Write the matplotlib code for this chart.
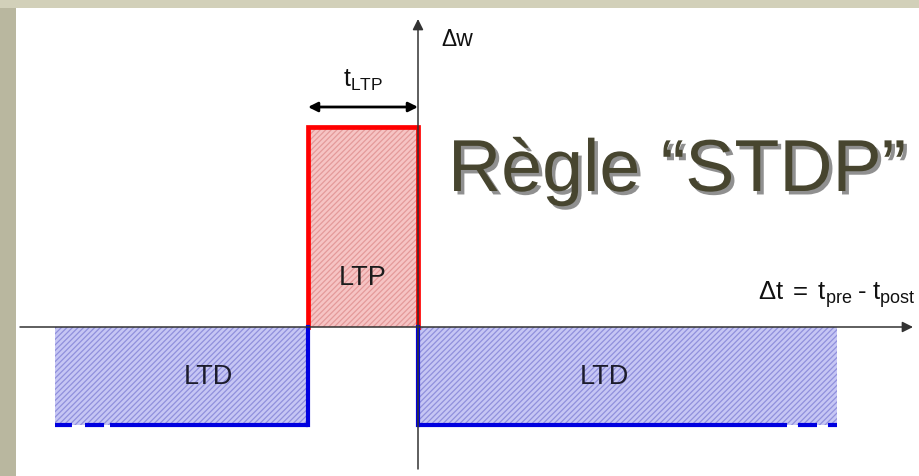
import matplotlib
matplotlib.use("Agg")
import matplotlib.pyplot as plt
import matplotlib.patheffects as pe
from matplotlib.patches import Rectangle

plt.rcParams['font.family'] = ['Liberation Sans', 'DejaVu Sans']
plt.rcParams['mathtext.fontset'] = 'custom'
plt.rcParams['mathtext.rm'] = 'Liberation Sans'
plt.rcParams['mathtext.it'] = 'Liberation Sans'
plt.rcParams['hatch.linewidth'] = 0.9
plt.rcParams['lines.scale_dashes'] = False

# ---- data (schematic STDP rule) ----
t_ltp = 1.0            # width of potentiation window
ltp_amp = 2.0          # potentiation amplitude
ltd_amp = -0.98        # depression amplitude
ltd_left_start = -3.3  # left extent of depression
ltd_right_end = 3.81   # right extent of depression
region_labels = ["LTP", "LTD", "LTD"]
title = "Règle “STDP”"
xlabel = r"$\Delta\mathrm{t}\;=\;\mathrm{t}_{\mathrm{pre}}\;\text{-}\;\mathrm{t}_{\mathrm{post}}$"
ylabel = "Δw"
width_label = r"$\mathrm{t}_{\mathrm{LTP}}$"

W, H = 919, 477
fig = plt.figure(figsize=(W / 100, H / 100), dpi=100)
fig.patch.set_facecolor('white')

# beige slide frame
fig.add_artist(Rectangle((0, 0), 16 / W, 1, transform=fig.transFigure,
                         facecolor='#b9b79f', edgecolor='none', zorder=0))
fig.add_artist(Rectangle((0, 1 - 9 / H), 1, 9 / H, transform=fig.transFigure,
                         facecolor='#d2d0b9', edgecolor='none', zorder=0))

ax = fig.add_axes([0, 0, 1, 1])
ax.set_xlim(-418 / 110, (W - 418) / 110)
ax.set_ylim(-(H - 328) / 100, 328 / 100)
ax.axis('off')
ax.patch.set_alpha(0)

# fills
red_fill, red_hatch = '#f6c4c4', '#e49a9a'
blue_fill, blue_hatch = '#c6c6f4', '#9090dc'
ax.fill_between([-t_ltp, 0], 0, ltp_amp, facecolor=red_fill, edgecolor=red_hatch,
                hatch='//////', linewidth=0, zorder=1)
ax.fill_between([ltd_left_start, -t_ltp], ltd_amp, 0, facecolor=blue_fill,
                edgecolor=blue_hatch, hatch='//////', linewidth=0, zorder=1)
ax.fill_between([0, ltd_right_end], ltd_amp, 0, facecolor=blue_fill,
                edgecolor=blue_hatch, hatch='//////', linewidth=0, zorder=1)

# borders
ax.plot([-t_ltp, -t_ltp, 0, 0], [0, ltp_amp, ltp_amp, 0], color='#ff0000',
        lw=3.4, solid_joinstyle='miter', zorder=3)
ax.plot([-t_ltp, -t_ltp], [ltd_amp, 0], color='#0000e0', lw=3, zorder=3)
ax.plot([ltd_left_start, -t_ltp], [ltd_amp, ltd_amp], color='#0000e0', lw=3,
        linestyle=(0, (12.2, 9.4, 13.7, 4.3, 400)), dash_capstyle='butt', zorder=3)
ax.plot([ltd_right_end, 0], [ltd_amp, ltd_amp], color='#0000e0', lw=3,
        linestyle=(0, (6.5, 7.9, 13.7, 7.9, 600)), dash_capstyle='butt', zorder=3)
ax.plot([0, 0], [ltd_amp, 0], color='#0000e0', lw=3, zorder=3)

# axes arrows
ax.annotate('', xy=((913 - 418) / 110, 0), xytext=((20 - 418) / 110, 0),
            arrowprops=dict(arrowstyle='-|>', color='#333333', lw=1.1,
                            mutation_scale=16, shrinkA=0, shrinkB=0), zorder=4)
ax.annotate('', xy=(0, (328 - 20) / 100), xytext=(0, -(470 - 328) / 100),
            arrowprops=dict(arrowstyle='-|>', color='#333333', lw=1.1,
                            mutation_scale=16, shrinkA=0, shrinkB=0), zorder=4)
# t_LTP double arrow
ax.annotate('', xy=(0, 2.2), xytext=(-t_ltp, 2.2),
            arrowprops=dict(arrowstyle='<|-|>', color='black', lw=2,
                            mutation_scale=14, shrinkA=0, shrinkB=0), zorder=4)

# labels
ax.text(-t_ltp / 2, 0.5, region_labels[0], ha='center', va='center',
        fontsize=19.5, color='#1c1c1c', zorder=5)
ax.text((208 - 418) / 110, ltd_amp / 2, region_labels[1], ha='center',
        va='center', fontsize=19.5, color='#1c1c2c', zorder=5)
ax.text((604 - 418) / 110, ltd_amp / 2, region_labels[2], ha='center',
        va='center', fontsize=19.5, color='#1c1c2c', zorder=5)
ax.text(-t_ltp / 2, 2.35, width_label, ha='center', va='bottom', fontsize=18,
        color='#111111')
ax.text((441 - 418) / 110, 2.88, ylabel, ha='left', va='center', fontsize=16.5,
        color='#111111')
ax.text((916 - 418) / 110, 0.28, xlabel, ha='right', va='baseline', fontsize=18.5,
        color='#111111')

ax.text((448 - 418) / 110, (328 - 192) / 100, title, ha='left', va='baseline',
        fontsize=53, color='#47452f', zorder=6,
        path_effects=[pe.withSimplePatchShadow(offset=(2.5, -2.5),
                                               shadow_rgbFace='#222222',
                                               alpha=0.5)])

fig.savefig('out.png', dpi=100, facecolor='white')
